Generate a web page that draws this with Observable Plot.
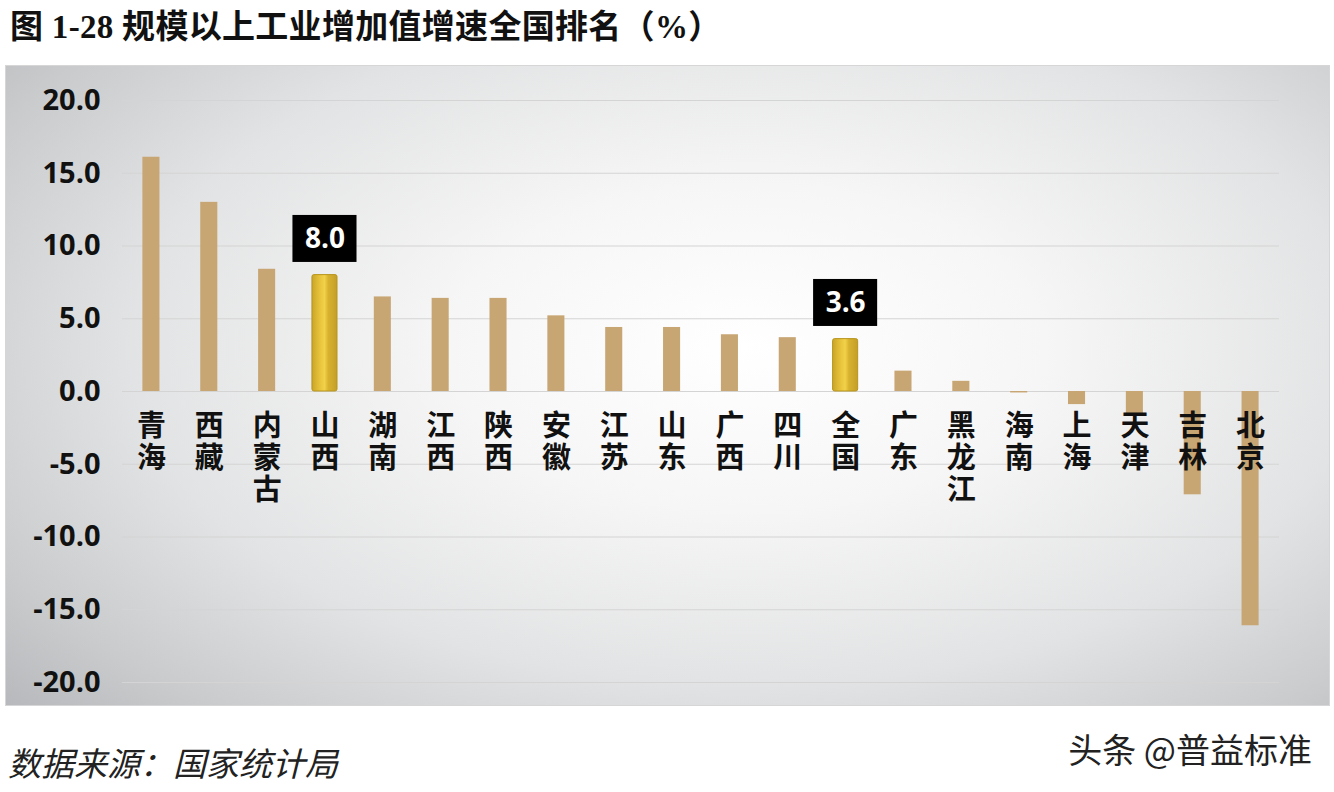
<!DOCTYPE html>
<html>
<head>
<meta charset="utf-8">
<script src="https://cdn.jsdelivr.net/npm/d3@7"></script>
<script src="https://cdn.jsdelivr.net/npm/@observablehq/plot@0.6"></script>
<style>
  html, body { margin: 0; padding: 0; background: #ffffff; }
  body { width: 1334px; height: 792px; position: relative; overflow: hidden; }
  #title { position: absolute; left: 10px; top: 0px; font-family: "Liberation Serif", "Noto Sans CJK SC", serif; font-weight: 700; font-size: 33px; color: #111; white-space: nowrap; letter-spacing: 0.3px; }
  #panel { position: absolute; left: 5px; top: 65px; width: 1325px; height: 641px; box-sizing: border-box; border: 1px solid #d6d6d6;
    background: radial-gradient(ellipse 75% 85% at 56% 44%, #ffffff 0%, #f6f6f6 30%, #e2e3e4 62%, #c9cbcd 85%, #b6b8bb 100%); }
  #chart { position: absolute; left: 0; top: 65px; }
  #source { position: absolute; left: 8px; top: 738px; font-family: "Noto Sans CJK SC", sans-serif; font-style: italic; font-size: 33px; color: #222; white-space: nowrap; }
  #mark { position: absolute; right: 22px; top: 724px; font-family: "Noto Sans CJK SC", sans-serif; font-size: 34px; color: #222; white-space: nowrap; text-shadow: 1px 1px 0 #fff, -1px -1px 0 #fff; }
</style>
</head>
<body>
<div id="title">图 1-28  规模以上工业增加值增速全国排名（%）</div>
<div id="panel"></div>
<div id="chart"></div>
<div id="source">数据来源：国家统计局</div>
<div id="mark">头条 @普益标准</div>
<script>
const regions = ["青海","西藏","内蒙古","山西","湖南","江西","陕西","安徽","江苏","山东","广西","四川","全国","广东","黑龙江","海南","上海","天津","吉林","北京"];
const growth = [16.1, 13.0, 8.4, 8.0, 6.5, 6.4, 6.4, 5.2, 4.4, 4.4, 3.9, 3.7, 3.6, 1.4, 0.7, -0.1, -0.9, -1.6, -7.1, -16.1];
const highlighted = ["山西", "全国"];
const yTicks = [20, 15, 10, 5, 0, -5, -10, -15, -20];

const data = regions.map((r, i) => ({region: r, value: growth[i]}));
const normal = data.filter(d => !highlighted.includes(d.region));
const hi = data.filter(d => highlighted.includes(d.region));

const chart = Plot.plot({
  width: 1334,
  height: 640,
  marginTop: 35,
  marginBottom: 23,
  marginLeft: 122,
  marginRight: 55,
  style: {background: "transparent", overflow: "visible"},
  x: {domain: regions, paddingInner: 0.705, paddingOuter: 0.3525, round: false, axis: null},
  y: {domain: [-20, 20], ticks: yTicks, axis: null},
  marks: [
    Plot.ruleY(yTicks, {stroke: "#d4d4d4", strokeWidth: 1.2}),
    Plot.axisY(yTicks, {label: null, tickSize: 0, tickPadding: 22, tickFormat: d => d.toFixed(1),
      fontSize: 29, fontWeight: 700, fill: "#111", fontFamily: "'Open Sans', 'Noto Sans', sans-serif"}),
    Plot.barY(normal, {x: "region", y: "value", fill: "#C8A673"}),
    Plot.barY(hi, {x: "region", y: "value", fill: "url(#goldGrad)", stroke: "#B8951E", strokeWidth: 1, insetLeft: -4, insetRight: -4, rx: 2}),
    Plot.barY(hi, {x: "region", y1: d => d.value + 0.87, y2: d => d.value + 4.1, fill: "#000", insetLeft: -23.5, insetRight: -23.5}),
    Plot.text(hi, {x: "region", y: d => d.value + 2.45, text: d => d.value.toFixed(1), fill: "#fff",
      fontSize: 28, fontWeight: 700, fontFamily: "'Open Sans', 'Noto Sans', sans-serif"}),
    Plot.text(data, {x: "region", y: 0, text: d => Array.from(d.region).join("\n"), lineAnchor: "top", dy: 22,
      lineHeight: 1.1, fontSize: 29, fontWeight: 700, fill: "#111", fontFamily: "'Noto Sans CJK SC', sans-serif"})
  ]
});

const svg = d3.select(chart);
const defs = svg.insert("defs", ":first-child");
const g = defs.append("linearGradient").attr("id", "goldGrad").attr("x1", "0%").attr("x2", "100%").attr("y1", "0%").attr("y2", "0%");
g.append("stop").attr("offset", "0%").attr("stop-color", "#C9A52A");
g.append("stop").attr("offset", "30%").attr("stop-color", "#E6C23A");
g.append("stop").attr("offset", "50%").attr("stop-color", "#F2D24A");
g.append("stop").attr("offset", "65%").attr("stop-color", "#D8B22E");
g.append("stop").attr("offset", "100%").attr("stop-color", "#C39F28");
document.getElementById("chart").appendChild(chart);
</script>
</body>
</html>
